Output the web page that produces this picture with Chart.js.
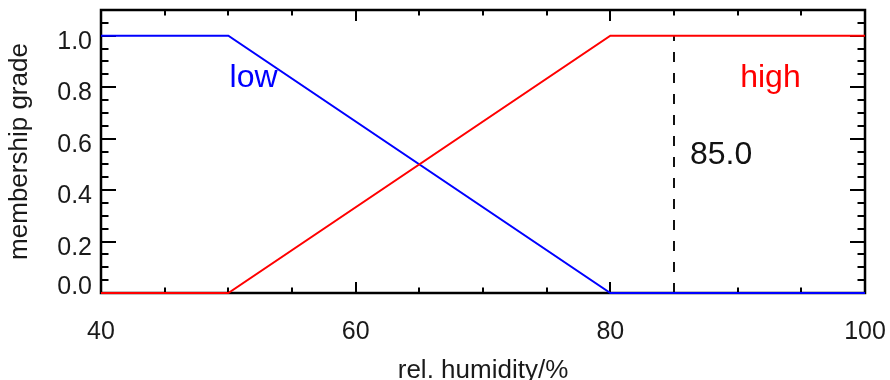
<!DOCTYPE html>
<html>
<head>
<meta charset="utf-8">
<title>membership grade</title>
<script src="https://cdn.jsdelivr.net/npm/chart.js@4/dist/chart.umd.min.js"></script>
<style>
html, body { margin: 0; padding: 0; background: #fff; }
#wrap { width: 890px; height: 380px; }
</style>
</head>
<body>
<div id="wrap"><canvas id="chart" width="890" height="380"></canvas></div>
<script>
// fuzzy sets over relative humidity
var humidity = [40, 50, 80, 100];
var lowGrade = [1, 1, 0, 0];
var highGrade = [0, 0, 1, 1];

// measured value marked with the dashed line
var cutValue = 85.0;

// axis ticks
var xTicks = [40, 60, 80, 100];
var yTicks = [0.0, 0.2, 0.4, 0.6, 0.8, 1.0];
var xMinorStep = 5;
var yMinorStep = 0.05;

// set names, placed in data coordinates
var setLabels = [
	{ text: 'low', x: 50.1, y: 0.80, color: '#0000ff' },
	{ text: 'high', x: 90.2, y: 0.80, color: '#ff0000' }
];
var cutLabelPos = { x: 86.25, y: 0.50 };

var FONT = '"Liberation Sans", Arial, Helvetica, sans-serif';

function toPoints(xs, ys){
	return xs.map(function(x, i){ return { x: x, y: ys[i] }; });
}

// IDL-style box: inward ticks on all four sides, labels left and bottom
var frame = {
	id: 'frame',
	beforeDatasetsDraw: function(chart){
		var ctx = chart.ctx, a = chart.chartArea;
		var xs = chart.scales.x, ys = chart.scales.y;
		var v, p;

		ctx.save();
		ctx.strokeStyle = '#000';
		ctx.lineWidth = 2;
		ctx.beginPath();

		for(v = xs.min; v <= xs.max + 1e-9; v += xMinorStep){
			p = Math.round(xs.getPixelForValue(v));
			var xl = xTicks.indexOf(v) >= 0 ? 11 : 5.5;
			ctx.moveTo(p, a.bottom); ctx.lineTo(p, a.bottom - xl);
			ctx.moveTo(p, a.top); ctx.lineTo(p, a.top + xl);
		}

		for(var i = 0; i * yMinorStep <= ys.max + 1e-9; i++){
			v = i * yMinorStep;
			p = Math.round(ys.getPixelForValue(v));
			var yl = i % 4 === 0 ? 15 : 7.5;
			ctx.moveTo(a.left, p); ctx.lineTo(a.left + yl, p);
			ctx.moveTo(a.right, p); ctx.lineTo(a.right - yl, p);
		}
		ctx.stroke();

		ctx.lineWidth = 2.5;
		ctx.strokeRect(a.left, a.top, a.right - a.left, a.bottom - a.top);

		ctx.fillStyle = '#1a1a1a';
		ctx.font = '25px ' + FONT;
		ctx.textBaseline = 'alphabetic';

		ctx.textAlign = 'center';
		xTicks.forEach(function(t){
			ctx.fillText(String(t), xs.getPixelForValue(t), a.bottom + 46);
		});

		ctx.textAlign = 'right';
		yTicks.forEach(function(t){
			var py = Math.min(ys.getPixelForValue(t) + 13, a.bottom + 1);
			ctx.fillText(t.toFixed(1), a.left - 9, py);
		});

		ctx.font = '26px ' + FONT;
		ctx.textAlign = 'center';
		ctx.fillText('rel. humidity/%', (a.left + a.right) / 2, 378);

		ctx.translate(20, (a.top + a.bottom) / 2);
		ctx.rotate(-Math.PI / 2);
		ctx.textBaseline = 'middle';
		ctx.fillText('membership grade', 0, 0);
		ctx.restore();
	},
	afterDatasetsDraw: function(chart){
		var ctx = chart.ctx;
		var xs = chart.scales.x, ys = chart.scales.y;

		ctx.save();
		ctx.font = '32px ' + FONT;
		ctx.textAlign = 'left';
		ctx.textBaseline = 'alphabetic';

		setLabels.forEach(function(l){
			ctx.fillStyle = l.color;
			ctx.fillText(l.text, xs.getPixelForValue(l.x), ys.getPixelForValue(l.y));
		});

		ctx.fillStyle = '#111';
		ctx.fillText(cutValue.toFixed(1), xs.getPixelForValue(cutLabelPos.x), ys.getPixelForValue(cutLabelPos.y));
		ctx.restore();
	}
};

var chart = new Chart(document.getElementById('chart').getContext('2d'), {
	type: 'line',
	data: {
		datasets: [
			{
				label: 'high',
				data: toPoints(humidity, highGrade),
				borderColor: '#ff0000',
				borderWidth: 2,
				pointRadius: 0,
				tension: 0,
				clip: 4
			},
			{
				label: 'low',
				data: toPoints(humidity, lowGrade),
				borderColor: '#0000ff',
				borderWidth: 2,
				pointRadius: 0,
				tension: 0,
				clip: 4
			},
			{
				label: 'measured',
				data: [{ x: cutValue, y: 0 }, { x: cutValue, y: 1 }],
				borderColor: '#111',
				borderWidth: 2,
				borderDash: [10, 11],
				pointRadius: 0,
				clip: 4
			}
		]
	},
	options: {
		responsive: false,
		animation: false,
		devicePixelRatio: 1,
		layout: { padding: { top: 10, right: 25, left: 0, bottom: 0 } },
		plugins: {
			legend: { display: false },
			tooltip: { enabled: false }
		},
		scales: {
			x: {
				type: 'linear',
				min: 40,
				max: 100,
				grid: { display: false },
				border: { display: false },
				ticks: { display: false },
				afterFit: function(s){ s.height = 87; }
			},
			y: {
				type: 'linear',
				min: 0,
				max: 1.1,
				grid: { display: false },
				border: { display: false },
				ticks: { display: false },
				afterFit: function(s){ s.width = 101; }
			}
		}
	},
	plugins: [frame]
});
</script>
</body>
</html>
